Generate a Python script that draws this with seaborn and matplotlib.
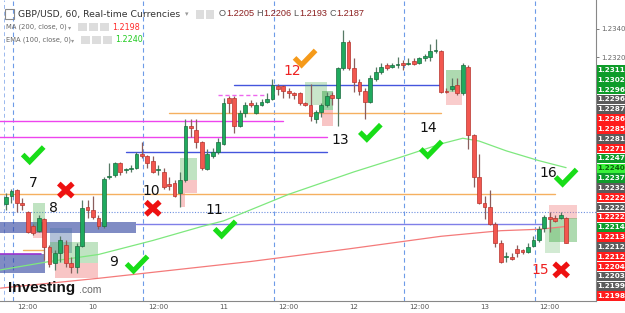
import matplotlib
matplotlib.use("Agg")
import matplotlib.pyplot as plt
import seaborn as sns
import pandas as pd
from matplotlib.patches import Rectangle

# ---------------- data ----------------
opens = [1.2215, 1.2221, 1.2225, 1.2216, 1.2209, 1.2199, 1.2196, 1.2204, 1.2184, 1.2173,
         1.2180, 1.2186, 1.2173, 1.2170, 1.2185, 1.2213, 1.2211, 1.2205, 1.2199, 1.2234,
         1.2236, 1.2244, 1.2239, 1.2240, 1.2241, 1.2251, 1.2249, 1.2246, 1.2239, 1.2238,
         1.2229, 1.2230, 1.2223, 1.2232, 1.2271, 1.2268, 1.2259, 1.2240, 1.2249, 1.2252,
         1.2258, 1.2291, 1.2291, 1.2271, 1.2280, 1.2287, 1.2280, 1.2286, 1.2288, 1.2290,
         1.2299, 1.2299, 1.2296, 1.2294, 1.2294, 1.2287, 1.2286, 1.2276, 1.2281, 1.2286,
         1.2293, 1.2291, 1.2312, 1.2331, 1.2312, 1.2302, 1.2296, 1.2288, 1.2304, 1.2309,
         1.2314, 1.2313, 1.2314, 1.2316, 1.2315, 1.2317, 1.2316, 1.2319, 1.2320, 1.2324,
         1.2324, 1.2296, 1.2297, 1.2300, 1.2294, 1.2313, 1.2264, 1.2234, 1.2216, 1.2213,
         1.2201, 1.2187, 1.2177, 1.2177, 1.2183, 1.2182, 1.2181, 1.2185, 1.2189, 1.2198,
         1.2206, 1.2205, 1.2205, 1.2205]
highs = [1.2223, 1.2226, 1.2226, 1.2219, 1.2210, 1.2201, 1.2207, 1.2205, 1.2186, 1.2182,
         1.2192, 1.2189, 1.2177, 1.2187, 1.2218, 1.2218, 1.2221, 1.2207, 1.2234, 1.2244,
         1.2245, 1.2245, 1.2241, 1.2243, 1.2252, 1.2259, 1.2250, 1.2249, 1.2243, 1.2241,
         1.2234, 1.2232, 1.2238, 1.2276, 1.2276, 1.2276, 1.2260, 1.2254, 1.2255, 1.2262,
         1.2291, 1.2292, 1.2292, 1.2282, 1.2288, 1.2289, 1.2288, 1.2290, 1.2294, 1.2304,
         1.2301, 1.2300, 1.2298, 1.2295, 1.2295, 1.2288, 1.2301, 1.2282, 1.2287, 1.2295,
         1.2295, 1.2313, 1.2339, 1.2332, 1.2319, 1.2304, 1.2298, 1.2307, 1.2313, 1.2316,
         1.2316, 1.2316, 1.2320, 1.2318, 1.2319, 1.2319, 1.2320, 1.2322, 1.2329, 1.2333,
         1.2325, 1.2298, 1.2305, 1.2305, 1.2316, 1.2314, 1.2265, 1.2251, 1.2221, 1.2225,
         1.2202, 1.2189, 1.2181, 1.2180, 1.2186, 1.2183, 1.2187, 1.2192, 1.2199, 1.2207,
         1.2209, 1.2207, 1.2209, 1.2206]
lows = [1.2211, 1.2216, 1.2209, 1.2211, 1.2194, 1.2193, 1.2195, 1.2175, 1.2170, 1.2168,
        1.2174, 1.2170, 1.2166, 1.2166, 1.2184, 1.2205, 1.2204, 1.2197, 1.2198, 1.2233,
        1.2234, 1.2236, 1.2237, 1.2238, 1.2240, 1.2248, 1.2241, 1.2237, 1.2236, 1.2226,
        1.2225, 1.2220, 1.2213, 1.2231, 1.2263, 1.2255, 1.2239, 1.2239, 1.2248, 1.2251,
        1.2257, 1.2280, 1.2266, 1.2270, 1.2277, 1.2284, 1.2279, 1.2285, 1.2287, 1.2289,
        1.2293, 1.2291, 1.2291, 1.2290, 1.2286, 1.2285, 1.2274, 1.2273, 1.2277, 1.2284,
        1.2286, 1.2271, 1.2311, 1.2311, 1.2295, 1.2293, 1.2276, 1.2287, 1.2303, 1.2308,
        1.2311, 1.2312, 1.2312, 1.2311, 1.2314, 1.2314, 1.2315, 1.2317, 1.2317, 1.2323,
        1.2294, 1.2294, 1.2296, 1.2293, 1.2293, 1.2254, 1.2227, 1.2215, 1.2204, 1.2200,
        1.2184, 1.2173, 1.2174, 1.2175, 1.2177, 1.2179, 1.2180, 1.2184, 1.2188, 1.2195,
        1.2195, 1.2202, 1.2204, 1.2187]
closes = [1.2220, 1.2224, 1.2216, 1.2214, 1.2195, 1.2194, 1.2205, 1.2184, 1.2172, 1.2180,
          1.2189, 1.2173, 1.2170, 1.2185, 1.2212, 1.2211, 1.2206, 1.2199, 1.2233, 1.2235,
          1.2244, 1.2238, 1.2240, 1.2241, 1.2251, 1.2249, 1.2244, 1.2238, 1.2240, 1.2227,
          1.2228, 1.2221, 1.2232, 1.2271, 1.2269, 1.2259, 1.2241, 1.2251, 1.2252, 1.2259,
          1.2287, 1.2287, 1.2271, 1.2280, 1.2286, 1.2286, 1.2286, 1.2288, 1.2290, 1.2300,
          1.2297, 1.2296, 1.2294, 1.2293, 1.2287, 1.2286, 1.2278, 1.2281, 1.2286, 1.2292,
          1.2291, 1.2312, 1.2331, 1.2312, 1.2302, 1.2296, 1.2288, 1.2305, 1.2309, 1.2313,
          1.2312, 1.2314, 1.2315, 1.2314, 1.2316, 1.2315, 1.2319, 1.2321, 1.2324, 1.2325,
          1.2295, 1.2295, 1.2299, 1.2294, 1.2314, 1.2264, 1.2234, 1.2216, 1.2213, 1.2201,
          1.2187, 1.2174, 1.2178, 1.2176, 1.2180, 1.2181, 1.2184, 1.2189, 1.2197, 1.2206,
          1.2204, 1.2203, 1.2207, 1.2187]

x_tick_pos = [4, 16, 28, 40, 52, 64, 76, 88, 100]
x_tick_labels = ["12:00", "10", "12:00", "11", "12:00", "12", "12:00", "13", "12:00"]
session_breaks = [1.2, 25.2, 49.2, 73.2, 97.2]

ema_idx = [-1, 8, 17, 27, 36, 40, 52, 64, 73, 80, 84, 87, 92, 98, 103]
ema_val = [1.2168, 1.2174, 1.2179, 1.2189, 1.2199, 1.2203, 1.2222, 1.2238, 1.2249,
           1.2258, 1.2262, 1.2260, 1.2253, 1.2246, 1.2241]
ma_idx = [-1, 17, 31, 45, 63, 80, 91, 98, 103]
ma_val = [1.2155, 1.2162, 1.2168, 1.2174, 1.2183, 1.2192, 1.2196, 1.2197, 1.2199]

# drawn horizontal levels: price, start index, end index
level_price = [1.2274, 1.2263, 1.2293, 1.2252, 1.2300, 1.2280, 1.2222, 1.2182, 1.2201]
level_start = [-1.2, -1.2, 39, 22, 42, 30, -1.2, 3.1, 24]
level_end = [51, 59, 48, 59, 80, 80, 101, 6.8, 99]
level_color = ["#ee44ee", "#ee44ee", "#ee66ee", "#4455dd", "#4455dd", "#f5b060", "#f5b060", "#f5b060", "#7f7fe8"]
level_style = ["-", "-", "--", "-", "-", "-", "-", "-", "-"]
dotted_level = 1.2209

# zones: i0, i1, p_low, p_high
zone_i0 = [-1.2, -1.2]
zone_i1 = [24.0, 7.2]
zone_lo = [1.2194, 1.2166]
zone_hi = [1.2202, 1.2179]

# position-tool boxes: i0, i1, p_low, p_high, colour, alpha
box_i0 = [5.0, 5.0, 8.1, 8.1, 9.0, 32.0, 32.0, 32.0, 55.0, 58.1, 58.1, 80.9, 80.9, 99.9, 99.9, 99.1]
box_i1 = [7.2, 7.2, 12.1, 16.9, 16.9, 35.1, 35.1, 32.9, 59.0, 60.1, 60.1, 83.9, 83.9, 105.0, 105.0, 101.9]
box_lo = [1.2196, 1.2191, 1.2180, 1.2173, 1.2162, 1.2232, 1.2223, 1.2213, 1.2286, 1.2282, 1.2271, 1.2295, 1.2286, 1.2204, 1.2188, 1.2180]
box_hi = [1.2216, 1.2196, 1.2198, 1.2188, 1.2173, 1.2248, 1.2232, 1.2223, 1.2302, 1.2296, 1.2282, 1.2311, 1.2295, 1.2214, 1.2205, 1.2198]
box_col = ["#4caf50", "#f08080", "#5577aa", "#4caf50", "#f08080", "#4caf50", "#f08080", "#f08080",
           "#4caf50", "#2e9e3e", "#f08080", "#4caf50", "#f08080", "#f08080", "#4caf50", "#4caf50"]
box_alpha = [0.35, 0.4, 0.45, 0.35, 0.45, 0.35, 0.45, 0.45, 0.3, 0.45, 0.45, 0.45, 0.4, 0.4, 0.45, 0.25]

# annotations: label, index, price, colour
note_text = ["7", "8", "9", "10", "11", "12", "13", "14", "15", "16"]
note_i = [5.0, 8.8, 19.7, 26.7, 38.4, 52.6, 61.4, 77.6, 98.2, 99.7]
note_p = [1.2230, 1.2212, 1.2174, 1.2224, 1.2211, 1.2310, 1.2261, 1.2269, 1.2168, 1.2237]
note_c = ["#111111"] * 5 + ["#ee2222", "#111111", "#111111", "#ee2222", "#111111"]
mark_kind = ["check", "cross", "check", "cross", "check", "check", "check", "check", "cross", "check"]
mark_i = [5.0, 11.0, 24.1, 27.0, 40.3, 55.0, 67.0, 78.2, 102.1, 103.0]
mark_p = [1.2250, 1.2225, 1.2172, 1.2212, 1.2197, 1.2319, 1.2266, 1.2254, 1.2168, 1.2234]
mark_c = ["#18dd18", "#ee1111", "#18dd18", "#ee1111", "#18dd18", "#f59a1a", "#18dd18", "#18dd18", "#ee1111", "#18dd18"]

# price labels stacked on the right scale
rlabel_text = ["1.2311", "1.2302", "1.2296", "1.2296", "1.2287", "1.2286", "1.2285", "1.2281",
               "1.2271", "1.2247", "1.2240", "1.2237", "1.2232", "1.2222", "1.2222", "1.2222",
               "1.2214", "1.2213", "1.2212", "1.2212", "1.2204", "1.2203", "1.2199", "1.2198"]
rlabel_kind = ["g", "g", "g", "k", "k", "r", "r", "k", "r", "g", "l", "g", "k", "r", "k", "r",
               "g", "r", "k", "r", "r", "k", "k", "r"]
y_ticks = [1.2340, 1.2320]

# ---------------- figure ----------------
sns.set_style("white")
plt.rcParams["font.family"] = ["DejaVu Sans"]
W, H = 625, 313
fig = plt.figure(figsize=(W / 100, H / 100), dpi=100)
fig.patch.set_facecolor("white")
ax = fig.add_axes([0, 12 / H, 596 / W, 301 / H])
ax.set_facecolor("white")
ax.set_xlim(-1.10, 108.5)
ax.set_ylim(1.21458, 1.23607)

for xb in session_breaks:
    ax.axvline(xb, color="#6d9be8", lw=0.8, ls=(0, (4, 3)), zorder=1)
ax.axvline(-0.37, color="#9ab8ee", lw=0.7, ls=(0, (4, 3)), zorder=1)
ax.axhline(dotted_level, color="#6d8fe0", lw=0.8, ls=(0, (1, 1.5)), zorder=1)

for i0, i1, lo, hi in zip(zone_i0, zone_i1, zone_lo, zone_hi):
    ax.add_patch(Rectangle((i0, lo), i1 - i0, hi - lo, facecolor="#2b3f9e", alpha=0.6,
                           edgecolor="none", zorder=1.5))
ax.plot([-1.1, 6.5], [1.2179, 1.2179], color="#9b30d0", lw=1.2, zorder=1.6)

for p, s, e, c, st in zip(level_price, level_start, level_end, level_color, level_style):
    ax.plot([s, e], [p, p], color=c, lw=1.0, ls="-" if st == "-" else (0, (3, 2)), zorder=2)

for i0, i1, lo, hi, c, a in zip(box_i0, box_i1, box_lo, box_hi, box_col, box_alpha):
    ax.add_patch(Rectangle((i0, lo), i1 - i0, hi - lo, facecolor=c, alpha=a, edgecolor="none", zorder=2.2))

sns.lineplot(x=ema_idx, y=ema_val, ax=ax, color="#7ee87e", lw=0.9, zorder=2.5)
sns.lineplot(x=ma_idx, y=ma_val, ax=ax, color="#f47a7a", lw=0.9, zorder=2.5)

df = pd.DataFrame({"i": range(len(opens)), "open": opens, "high": highs, "low": lows, "close": closes})
up = df["close"] >= df["open"]
body_col = ["#1faa5e" if u else "#f2574f" for u in up]
edge_col = ["#1a6b3d" if u else "#b7332c" for u in up]
wick_col = ["#577a66" if u else "#8a5e5c" for u in up]
ax.vlines(df["i"], df["low"], df["high"], colors=wick_col, lw=0.9, zorder=3)
height = (df["close"] - df["open"]).abs().clip(lower=0.00006)
bottom = df[["open", "close"]].min(axis=1)
ax.bar(df["i"], height, bottom=bottom, width=0.7, color=body_col, edgecolor=edge_col,
       linewidth=0.5, zorder=4)

for t, xi, p, c in zip(note_text, note_i, note_p, note_c):
    ax.text(xi, p, t, color=c, fontsize=10, ha="center", va="center", zorder=6)

ax.set_xticks(x_tick_pos)
ax.set_xticklabels(x_tick_labels)
ax.tick_params(axis="x", labelsize=5, colors="#555555", length=1.5, width=0.6, pad=1)
ax.yaxis.tick_right()
ax.set_yticks(y_ticks)
ax.set_yticklabels([f"{v:.4f}" for v in y_ticks])
ax.tick_params(axis="y", labelsize=5, colors="#666666", length=2.5, width=0.6, pad=1.5)
for side in ["left", "top"]:
    ax.spines[side].set_visible(False)
ax.spines["right"].set_color("#888888")
ax.spines["bottom"].set_color("#888888")
ax.spines["right"].set_linewidth(0.8)
ax.spines["bottom"].set_linewidth(0.8)

# overlay in pixel coordinates for marks, labels and header
ov = fig.add_axes([0, 0, 1, 1], zorder=10)
ov.set_xlim(0, W)
ov.set_ylim(H, 0)
ov.axis("off")
ov.patch.set_alpha(0)

for kd, xi, p, c in zip(mark_kind, mark_i, mark_p, mark_c):
    dx, dy = ax.transData.transform((xi, p))
    cx, cy = dx, H - dy
    if kd == "check":
        ov.plot([cx - 10.5, cx - 3.5, cx + 10.5], [cy - 0.5, cy + 6.5, cy - 8], color=c, lw=3.7,
                solid_capstyle="butt", solid_joinstyle="miter")
    else:
        ov.plot([cx - 7, cx + 7], [cy - 6.5, cy + 6.5], color=c, lw=3.8, solid_capstyle="butt")
        ov.plot([cx - 7, cx + 7], [cy + 6.5, cy - 6.5], color=c, lw=3.8, solid_capstyle="butt")

kind_face = {"g": "#0e9c2a", "r": "#ff1c1c", "k": "#5b5b5b", "l": "#39f139"}
kind_text = {"g": "white", "r": "white", "k": "white", "l": "#0b5e0b"}
for k, (t, kd) in enumerate(zip(rlabel_text, rlabel_kind)):
    yc = 70 + k * 9.83
    ov.add_patch(Rectangle((597, yc - 4.7), 28, 9.4, facecolor=kind_face[kd], edgecolor="none"))
    ov.text(611, yc, t, color=kind_text[kd], fontsize=5.2, fontweight="bold", ha="center", va="center")

# header
ov.add_patch(Rectangle((5, 9), 9, 10, facecolor="none", edgecolor="#888888", lw=0.8))
ov.text(18, 14, "GBP/USD, 60, Real-time Currencies", fontsize=6.7, color="#333333", va="center")
ov.text(185, 14.5, "\u25be", fontsize=5, color="#999999", va="center")
for xb in [196, 206]:
    ov.add_patch(Rectangle((xb, 9.5), 8, 9, facecolor="#dddddd", edgecolor="none"))
parts = [(219, "O", "#555555"), (226, "1.2205", "#8b1f1f"), (256, "H", "#555555"), (263, "1.2206", "#8b1f1f"),
         (293, "L", "#555555"), (299, "1.2193", "#8b1f1f"), (329, "C", "#555555"), (336, "1.2187", "#8b1f1f")]
for xp, t, c in parts:
    ov.text(xp, 14, t, fontsize=6.6, color=c, va="center", family=["Liberation Sans", "DejaVu Sans"])
ov.text(6, 27, "MA (200, close, 0)", fontsize=4.9, color="#666666", va="center")
ov.text(68, 27.5, "\u25be", fontsize=4.5, color="#999999", va="center")
for xb in [78, 89, 100]:
    ov.add_patch(Rectangle((xb, 23), 9, 8, facecolor="#dddddd", edgecolor="none"))
ov.text(112, 27, "1.2198", fontsize=5.8, color="#ff2a2a", va="center")
ov.text(6, 40, "EMA (100, close, 0)", fontsize=4.9, color="#666666", va="center")
ov.text(71, 40.5, "\u25be", fontsize=4.5, color="#999999", va="center")
for xb in [81, 92, 103]:
    ov.add_patch(Rectangle((xb, 36), 9, 8, facecolor="#dddddd", edgecolor="none"))
ov.text(115, 40, "1.2240", fontsize=5.8, color="#22cc22", va="center")

# logo
ov.text(8, 288, "Investing", fontsize=11, fontweight="bold", color="#111111", va="center",
        family=["Liberation Sans", "DejaVu Sans"])
ov.text(79, 290, ".com", fontsize=7.5, color="#666666", va="center", family=["Liberation Sans", "DejaVu Sans"])

fig.savefig("out.png", dpi=100, facecolor="white")
